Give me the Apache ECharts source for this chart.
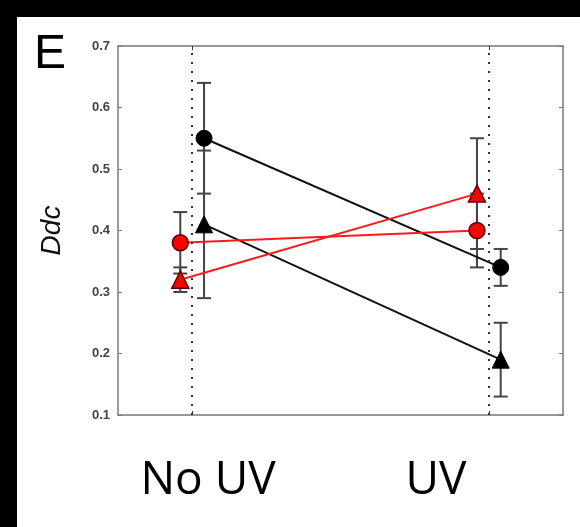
<!DOCTYPE html>
<html lang="en">
<head>
    <meta charset="UTF-8">
    <script src="https://cdn.jsdelivr.net/npm/echarts@6/dist/echarts.min.js"></script>
    <title>Ddc</title>
</head>
<body>
<style>
    html, body {
        width: 100%;
        height: 100%;
        margin: 0;
        background: #000;
        overflow: hidden;
    }
    #main {
        position: absolute;
        left: 17px;
        top: 17px;
        width: 563px;
        height: 510px;
    }
</style>
<div id='main'></div>
<script>
    // x positions of the two conditions
    var categories = ['No UV', 'UV'];
    var catPos = [1, 2];
    var yTicks = [0.1, 0.2, 0.3, 0.4, 0.5, 0.6, 0.7];

    // black = one group, red = other group
    var blackCircle = [0.55, 0.34];
    var blackCircleErr = [0.09, 0.03];
    var blackTri = [0.41, 0.19];
    var blackTriErr = [0.12, 0.06];
    var redCircle = [0.38, 0.40];
    var redCircleErr = [0.05, 0.06];
    var redTri = [0.32, 0.46];
    var redTriErr = [0.02, 0.09];

    var shift = 0.04; // markers sit beside the dotted line

    function pts(vals, off) {
        var out = [];
        for (var i = 0; i < vals.length; i++) out.push([catPos[i] + off, vals[i]]);
        return out;
    }
    function bars(vals, errs, off) {
        var out = [];
        for (var i = 0; i < vals.length; i++) out.push([catPos[i] + off, vals[i] - errs[i], vals[i] + errs[i]]);
        return out;
    }

    var errData = [].concat(
        bars(blackCircle, blackCircleErr, shift),
        bars(blackTri, blackTriErr, shift),
        bars(redCircle, redCircleErr, -shift),
        bars(redTri, redTriErr, -shift)
    );

    var frame = '#777';
    var chart = echarts.init(document.getElementById('main'));

    var option = {
        backgroundColor: '#fff',
        animation: false,
        grid: {left: 101, right: 17, top: 29, bottom: 112},
        xAxis: [
            {
                type: 'value', min: 0.75, max: 2.25, position: 'bottom',
                axisLine: {show: true, onZero: false, lineStyle: {color: frame, width: 1.5}},
                axisTick: {show: true, inside: true, length: 4, customValues: catPos, lineStyle: {color: '#333'}},
                axisLabel: {show: false},
                splitLine: {show: false}
            },
            {
                type: 'value', min: 0.75, max: 2.25, position: 'top',
                axisLine: {show: true, onZero: false, lineStyle: {color: frame, width: 1.5}},
                axisTick: {show: true, inside: true, length: 4, customValues: catPos, lineStyle: {color: '#333'}},
                axisLabel: {show: false},
                splitLine: {show: false}
            }
        ],
        yAxis: [
            {
                type: 'value', min: 0.1, max: 0.7, interval: 0.1,
                name: 'Ddc', nameLocation: 'middle', nameGap: 52,
                nameTextStyle: {fontStyle: 'italic', fontSize: 28, color: '#111', fontFamily: 'Liberation Sans'},
                axisLine: {show: true, lineStyle: {color: frame, width: 1.5}},
                axisTick: {show: true, inside: true, length: 4, lineStyle: {color: frame}},
                axisLabel: {
                    margin: 8, fontSize: 13, fontWeight: 'bold', color: '#444', fontFamily: 'Liberation Sans',
                    formatter: function (v) { return v.toFixed(1); }
                },
                splitLine: {show: false}
            },
            {
                type: 'value', min: 0.1, max: 0.7, interval: 0.1, position: 'right',
                axisLine: {show: true, lineStyle: {color: frame, width: 1.5}},
                axisTick: {show: true, inside: true, length: 4, lineStyle: {color: frame}},
                axisLabel: {show: false},
                splitLine: {show: false}
            }
        ],
        graphic: [
            {type: 'text', left: 17, top: 14, style: {text: 'E', fontSize: 48, fontFamily: 'Liberation Sans', fill: '#000'}},
            {type: 'text', x: 191, y: 487, style: {text: categories[0], fontSize: 46, fontFamily: 'Open Sans', fill: '#000', align: 'center', verticalAlign: 'bottom'}},
            {type: 'text', x: 419, y: 487, style: {text: categories[1], fontSize: 46, fontFamily: 'Open Sans', fill: '#000', align: 'center', verticalAlign: 'bottom'}}
        ],
        series: [
            {
                type: 'custom',
                z: 1,
                silent: true,
                data: errData,
                encode: {x: 0, y: [1, 2]},
                renderItem: function (params, api) {
                    var x = api.value(0);
                    var top = api.coord([x, api.value(2)]);
                    var bot = api.coord([x, api.value(1)]);
                    var hw = 7;
                    var st = {stroke: '#444', lineWidth: 2};
                    return {
                        type: 'group',
                        children: [
                            {type: 'line', shape: {x1: top[0], y1: top[1], x2: bot[0], y2: bot[1]}, style: st},
                            {type: 'line', shape: {x1: top[0] - hw, y1: top[1], x2: top[0] + hw, y2: top[1]}, style: st},
                            {type: 'line', shape: {x1: bot[0] - hw, y1: bot[1], x2: bot[0] + hw, y2: bot[1]}, style: st}
                        ]
                    };
                },
                markLine: {
                    silent: true,
                    symbol: 'none',
                    label: {show: false},
                    lineStyle: {type: [2, 7], color: '#333', width: 2},
                    data: [{xAxis: catPos[0]}, {xAxis: catPos[1]}]
                }
            },
            {
                type: 'line', z: 3, data: pts(blackCircle, shift),
                symbol: 'circle', symbolSize: 16,
                lineStyle: {color: '#111', width: 2},
                itemStyle: {color: '#000', borderColor: '#000', borderWidth: 1}
            },
            {
                type: 'line', z: 3, data: pts(blackTri, shift),
                symbol: 'triangle', symbolSize: 17,
                lineStyle: {color: '#111', width: 2},
                itemStyle: {color: '#000', borderColor: '#000', borderWidth: 1}
            },
            {
                type: 'line', z: 3, data: pts(redCircle, -shift),
                symbol: 'circle', symbolSize: 16,
                lineStyle: {color: '#ff1a1a', width: 2},
                itemStyle: {color: '#ff0000', borderColor: '#5a0000', borderWidth: 1.5}
            },
            {
                type: 'line', z: 3, data: pts(redTri, -shift),
                symbol: 'triangle', symbolSize: 17,
                lineStyle: {color: '#ff1a1a', width: 2},
                itemStyle: {color: '#ff0000', borderColor: '#5a0000', borderWidth: 1.5}
            }
        ]
    };

    chart.setOption(option);
    window.onresize = chart.resize;
</script>
</body>
</html>
